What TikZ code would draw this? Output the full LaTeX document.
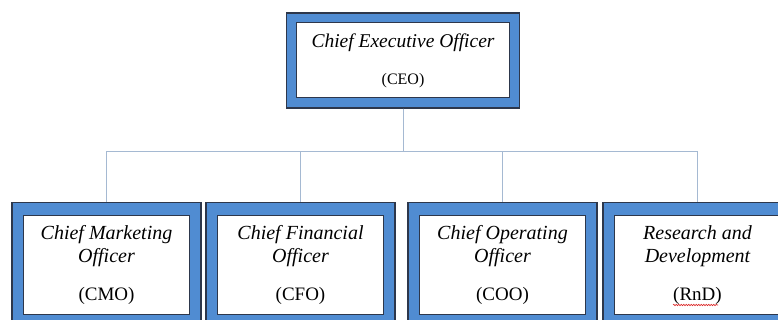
\documentclass[tikz,border=0pt]{standalone}
\usepackage{fontspec}
\setmainfont{Liberation Serif}
\usepackage{tikz}
\usetikzlibrary{positioning,decorations.pathmorphing}
\definecolor{frameblue}{RGB}{80,140,210}
\definecolor{framedark}{RGB}{45,55,75}
\definecolor{linkblue}{RGB}{165,185,210}
\definecolor{spellred}{RGB}{220,40,40}

\begin{document}
\begin{tikzpicture}[x=1pt, y=-1pt,
  framebox/.style={draw=framedark, line width=1.2pt, fill=frameblue, inner sep=0pt},
  textbox/.style={draw=framedark, line width=1pt, fill=white, inner sep=0pt, align=center,
    font=\fontsize{20}{23}\selectfont\itshape},
  link/.style={draw=linkblue, line width=0.9pt}]
\clip (0,0) rectangle (778,320);
\fill[white] (0,0) rectangle (778,320);
% Top: CEO
\node[framebox, minimum width=233pt, minimum height=95pt] (ceo) at (403,60.5) {};
\node[textbox, minimum width=213pt, minimum height=75pt,
  font=\fontsize{19.5}{22}\selectfont\itshape] (ceoin) at (ceo)
  {Chief Executive Officer\\[15pt]{\upshape\fontsize{16}{22}\selectfont (CEO)}};
% Bottom row
\node[framebox, minimum width=189pt, minimum height=125pt] (cmo) at (106.5,265) {};
\node[textbox, minimum width=166pt, minimum height=98pt] (cmoin) at (cmo)
  {Chief Marketing\\Officer\\[15pt]{\upshape\fontsize{19}{23}\selectfont (CMO)}};
\node[framebox, minimum width=189pt, minimum height=125pt] (cfo) at (300.5,265) {};
\node[textbox, minimum width=166pt, minimum height=98pt] (cfoin) at (cfo)
  {Chief Financial\\Officer\\[15pt]{\upshape\fontsize{19}{23}\selectfont (CFO)}};
\node[framebox, minimum width=189pt, minimum height=125pt] (coo) at (502.5,265) {};
\node[textbox, minimum width=166pt, minimum height=98pt] (cooin) at (coo)
  {Chief Operating\\Officer\\[15pt]{\upshape\fontsize{19}{23}\selectfont (COO)}};
\node[framebox, minimum width=189pt, minimum height=125pt] (rnd) at (697.5,265) {};
\node[textbox, minimum width=166pt, minimum height=98pt] (rndin) at (rnd)
  {Research and\\Development\\[15pt]{\upshape\fontsize{19}{23}\selectfont (RnD)}};
% Connectors
\coordinate (bus) at (0,151);
\draw[link] (ceo.south) -- (ceo.south |- bus) -| (cmo.north);
\draw[link] (ceo.south) -- (ceo.south |- bus) -| (cfo.north);
\draw[link] (ceo.south) -- (ceo.south |- bus) -| (coo.north);
\draw[link] (ceo.south) -- (ceo.south |- bus) -| (rnd.north);
% spell-check squiggle
\draw[spellred, line width=0.6pt, decorate, decoration={snake, amplitude=0.7pt, segment length=2.5pt}]
  (673,305) -- (718,305);
\end{tikzpicture}
\end{document}
